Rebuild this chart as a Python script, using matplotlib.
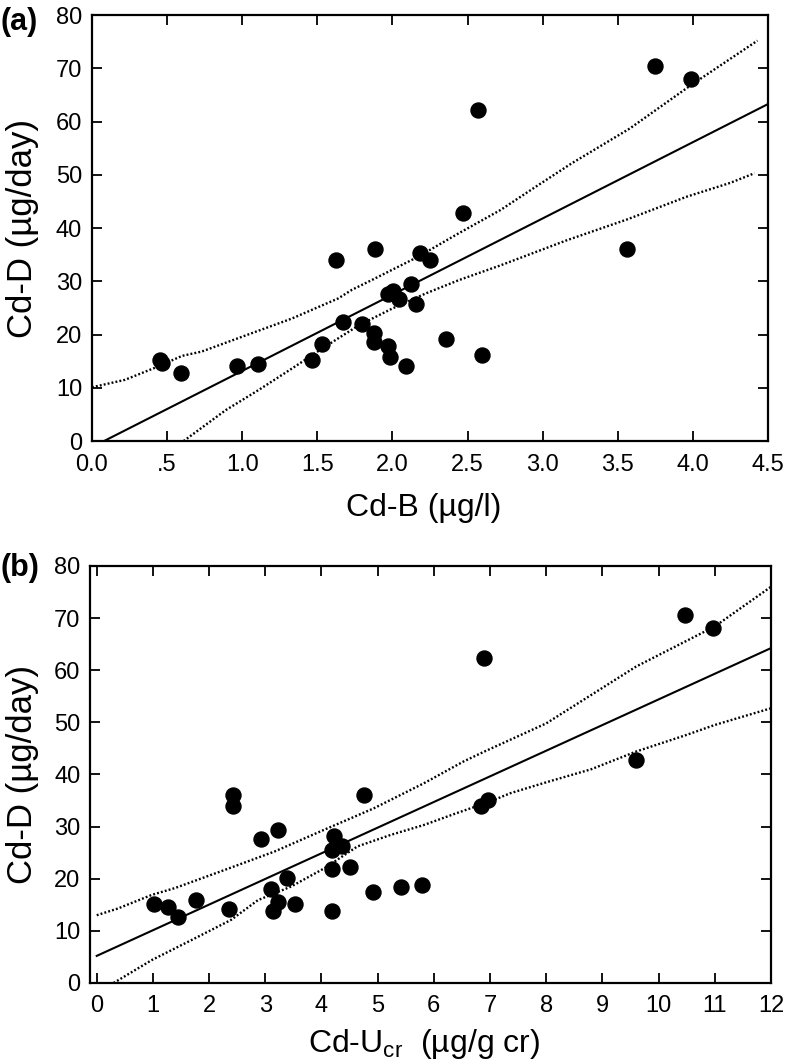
import matplotlib
matplotlib.use("Agg")
import matplotlib.pyplot as plt
import numpy as np

plt.rcParams['font.family'] = ['Liberation Sans', 'DejaVu Sans']
plt.rcParams['mathtext.fontset'] = 'custom'
plt.rcParams['mathtext.rm'] = 'Liberation Sans'

# ---- panel (a): Cd-B vs Cd-D ----
cdb = [0.455, 0.466, 0.592, 0.965, 1.105, 1.464, 1.531, 1.624, 1.671, 1.797,
       1.875, 1.875, 1.886, 1.968, 1.968, 1.986, 2.004, 2.046, 2.092, 2.126,
       2.157, 2.186, 2.252, 2.359, 2.47, 2.57, 2.596, 3.56, 3.75, 3.99]
cdd_a = [15.2, 14.7, 12.8, 14.1, 14.5, 15.3, 18.2, 34.0, 22.3, 22.0,
         20.3, 18.6, 36.1, 17.9, 27.7, 15.7, 28.2, 26.6, 14.1, 29.5,
         25.7, 35.4, 34.0, 19.1, 42.8, 62.2, 16.2, 36.1, 70.5, 68.0]
fit_a = (-1.15, 14.32)          # intercept, slope
fit_a_range = (0.08, 4.5)
upper_a_x = [0.0, 0.22, 0.44, 0.6, 0.73, 1.0, 1.33, 1.64, 1.73, 1.86, 2.17,
             2.44, 2.72, 2.94, 3.19, 3.58, 3.99, 4.43]
upper_a_y = [10.1, 11.5, 14.0, 16.0, 16.8, 19.6, 23.0, 26.8, 28.4, 30.2, 34.6,
             39.0, 43.4, 47.5, 52.1, 58.7, 66.9, 75.2]
lower_a_x = [0.61, 0.89, 1.11, 1.33, 1.55, 1.78, 2.0, 2.22, 2.44, 2.72, 3.16,
             3.56, 3.96, 4.25, 4.41]
lower_a_y = [0.0, 5.8, 9.6, 13.6, 17.7, 21.8, 24.9, 27.7, 30.2, 33.0, 37.7,
             41.6, 45.9, 48.5, 50.3]
xticks_a = [0.0, 0.5, 1.0, 1.5, 2.0, 2.5, 3.0, 3.5, 4.0, 4.5]
xticklabels_a = ['0.0', '.5', '1.0', '1.5', '2.0', '2.5', '3.0', '3.5', '4.0', '4.5']

# ---- panel (b): Cd-Ucr vs Cd-D ----
cdu = [1.02, 1.27, 1.44, 1.77, 2.35, 2.43, 2.43, 2.93, 3.22, 3.10,
       3.13, 3.23, 3.39, 3.52, 4.18, 4.18, 4.18, 4.23, 4.36, 4.51,
       4.76, 4.92, 5.42, 5.79, 6.84, 6.96, 6.9, 9.6, 10.47, 10.97]
cdd_b = [15.2, 14.6, 12.6, 15.9, 14.2, 36.1, 34.0, 27.6, 29.4, 18.0,
         13.9, 15.6, 20.1, 15.2, 13.8, 21.8, 25.5, 28.1, 26.3, 22.2,
         36.0, 17.5, 18.5, 18.8, 34.0, 35.1, 62.3, 42.7, 70.6, 68.0]
fit_b = (5.2, 4.92)
fit_b_range = (0.0, 12.0)
upper_b_x = [0.0, 0.38, 0.98, 1.39, 2.28, 3.16, 4.05, 4.93, 5.82, 6.53, 6.9,
             8.0, 9.6, 11.0, 12.0]
upper_b_y = [13.0, 14.3, 16.9, 18.2, 21.7, 25.2, 29.4, 33.5, 38.3, 42.5, 44.4,
             49.8, 60.7, 68.4, 76.0]
lower_b_x = [0.3, 0.98, 1.68, 2.39, 2.87, 3.46, 4.05, 4.64, 5.23, 5.82, 6.41,
             7.0, 7.36, 8.0, 8.8, 9.6, 10.5, 11.0, 12.0]
lower_b_y = [0.0, 4.4, 8.2, 12.1, 15.9, 18.5, 22.0, 26.2, 28.4, 30.3, 32.6,
             34.8, 36.4, 38.5, 41.0, 44.4, 47.6, 49.5, 52.7]

fig = plt.figure(figsize=(7.86, 10.62), dpi=100)
ax1 = fig.add_axes([0.1170, 0.5847, 0.8601, 0.4011])
ax2 = fig.add_axes([0.1145, 0.0744, 0.8664, 0.3927])


def draw(ax, x, y, fit, rng, ux, uy, lx, ly):
    ax.plot(x, y, 'o', color='black', markersize=10.8, zorder=3)
    xs = np.array(rng)
    ax.plot(xs, fit[0] + fit[1] * xs, color='black', lw=1.5)
    ax.plot(ux, uy, color='black', lw=1.7, linestyle=(0, (0.8, 0.9)))
    ax.plot(lx, ly, color='black', lw=1.7, linestyle=(0, (0.8, 0.9)))
    ax.set_ylim(0, 80)
    ax.set_yticks(range(0, 81, 10))
    ax.tick_params(direction='in', length=7, width=1.3, labelsize=17,
                   top=True, right=True, pad=7)
    ax.tick_params(axis='x', pad=9)
    for s in ax.spines.values():
        s.set_linewidth(1.6)
    ax.set_ylabel('Cd-D (µg/day)', fontsize=25)


draw(ax1, cdb, cdd_a, fit_a, fit_a_range, upper_a_x, upper_a_y, lower_a_x, lower_a_y)
ax1.set_xlim(0, 4.5)
ax1.set_xticks(xticks_a)
ax1.set_xticklabels(xticklabels_a)
ax1.set_xlabel('Cd-B (µg/l)', fontsize=23)
ax1.xaxis.set_label_coords(0.49, -0.122)
ax1.yaxis.set_label_coords(-0.078, 0.5)

draw(ax2, cdu, cdd_b, fit_b, fit_b_range, upper_b_x, upper_b_y, lower_b_x, lower_b_y)
ax2.set_xlim(-0.12, 12)
ax2.set_xticks(range(0, 13))
ax2.set_xlabel(r'Cd-U$_{\mathregular{cr}}$  (µg/g cr)', fontsize=23)
ax2.xaxis.set_label_coords(0.49, -0.105)
ax2.yaxis.set_label_coords(-0.075, 0.5)

fig.text(0.0, 1 - 22 / 1062, '(a)', fontsize=22, fontweight='bold', va='center', ha='left')
fig.text(0.0, 1 - 568 / 1062, '(b)', fontsize=22, fontweight='bold', va='center', ha='left')

fig.savefig('out.png', dpi=100)
